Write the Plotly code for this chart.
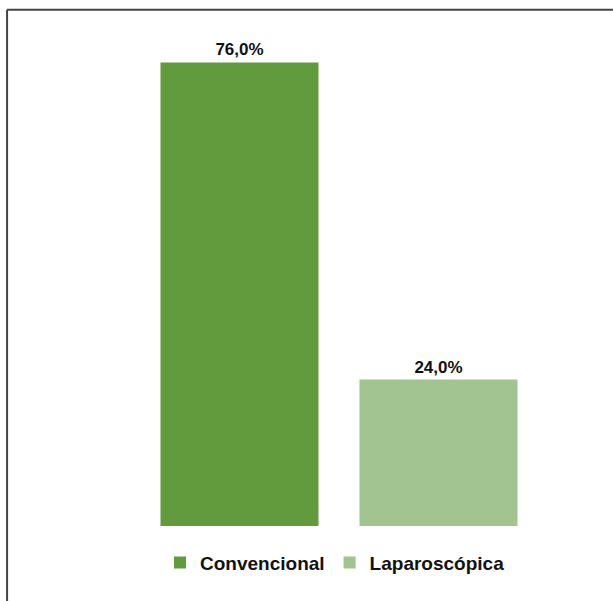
import plotly.graph_objects as go

categories = ["Convencional", "Laparoscópica"]
values = [76.0, 24.0]
colors = ["#629A3E", "#A1C490"]

fig = go.Figure()
for cat, val, col in zip(categories, values, colors):
    fig.add_trace(go.Bar(
        x=[cat], y=[val], name=cat,
        marker=dict(color=col, line=dict(width=0)),
        width=0.794,
        text=[f"{val:.1f}".replace(".", ",") + "%"],
        textposition="outside",
        textfont=dict(family="Liberation Sans, Arial", size=17, color="#111111", weight="bold"),
        cliponaxis=False,
    ))

fig.update_layout(
    width=613, height=601,
    margin=dict(l=140, r=75, t=38, b=75),
    barmode="overlay",
    plot_bgcolor="white", paper_bgcolor="white",
    showlegend=True,
    legend=dict(orientation="h", x=0.49, xanchor="center", y=-0.036, yanchor="top",
                font=dict(family="Liberation Sans, Arial", size=19, color="#111111", weight="bold"),
                itemclick=False),
    xaxis=dict(range=[-0.5, 1.5], showticklabels=False, showgrid=False, zeroline=False,
               showline=False, ticks=""),
    yaxis=dict(range=[0, 80], showticklabels=False, showgrid=False, zeroline=False,
               showline=False, ticks=""),
    shapes=[
        dict(type="line", xref="paper", yref="paper", x0=-0.334, x1=1.2, y0=1.058, y1=1.058,
             line=dict(color="#444444", width=2)),
        dict(type="line", xref="paper", yref="paper", x0=-0.334, x1=-0.334, y0=1.058, y1=-0.2,
             line=dict(color="#444444", width=2)),
    ],
)
fig.write_html("out.html")
